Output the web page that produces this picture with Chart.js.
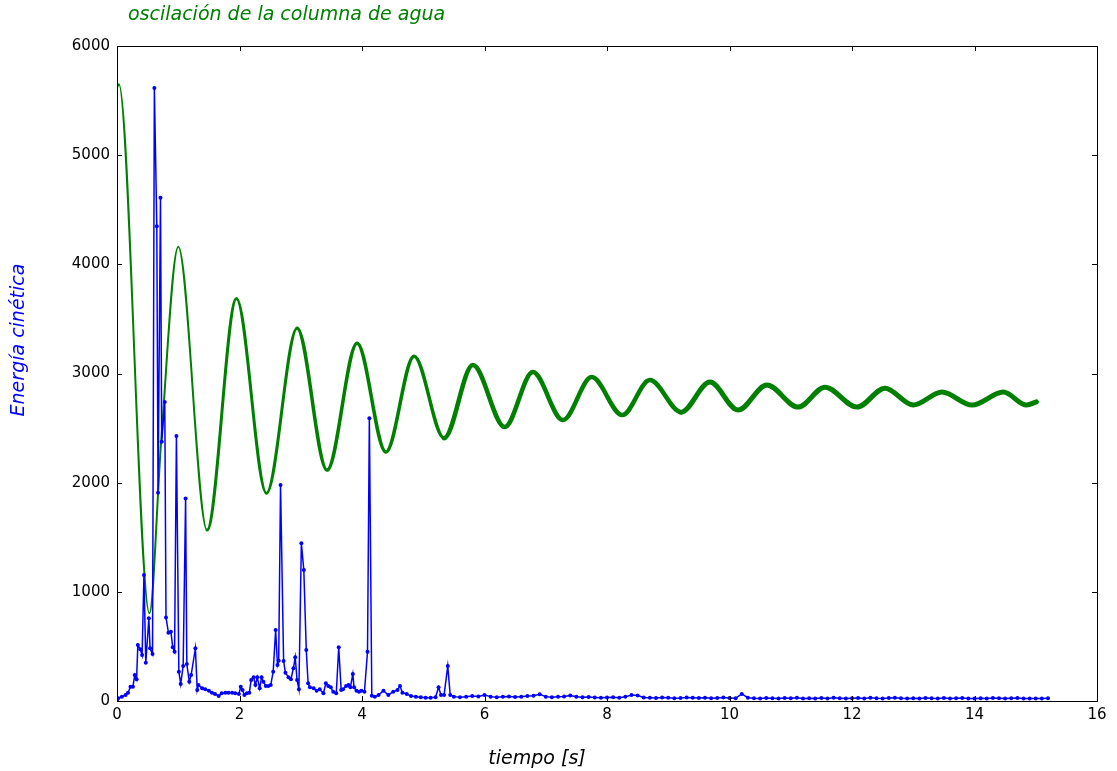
<!DOCTYPE html>
<html>
<head>
<meta charset="utf-8">
<script src="https://cdn.jsdelivr.net/npm/chart.js@4"></script>
<style>
  body { margin: 0; background: #fff; }
  #wrap { width: 1117px; height: 771px; }
</style>
</head>
<body>
<div id="wrap"><canvas id="chart" width="1117" height="771"></canvas></div>
<script>
// Labels
var titleText = 'oscilación de la columna de agua';
var yTitle = 'Energía cinética';
var xTitle = 'tiempo [s]';

// Axis ticks
var xTicks = [0, 2, 4, 6, 8, 10, 12, 14, 16];
var yTicks = [0, 1000, 2000, 3000, 4000, 5000, 6000];

// Water column oscillation (green): time [s] and value at turning points
var greenT = [0.0, 0.03, 0.53, 0.72, 1.00, 1.47, 1.95, 2.44, 2.94, 3.43, 3.92, 4.39, 4.85, 5.34, 5.81,
  6.33, 6.79, 7.28, 7.75, 8.25, 8.70, 9.21, 9.68, 10.14, 10.61, 11.12, 11.56, 12.08, 12.54,
  13.00, 13.47, 13.96, 14.47, 14.85, 15.01];
var greenV = [5620, 5650, 803, 2370, 4160, 1566, 3687, 1902, 3415, 2115, 3278, 2280, 3159, 2408, 3077,
  2509, 3013, 2573, 2967, 2619, 2940, 2646, 2921, 2665, 2894, 2692, 2875, 2692, 2866,
  2711, 2830, 2711, 2830, 2711, 2741];

// Kinetic energy (blue), first part: time [s], value
var blueT = [0.00, 0.02, 0.08, 0.14, 0.18, 0.22, 0.26, 0.29, 0.32, 0.34, 0.38, 0.41, 0.44, 0.47, 0.52, 0.54,
  0.58, 0.61, 0.65, 0.67, 0.71, 0.73, 0.78, 0.80, 0.84, 0.88, 0.91, 0.94, 0.97, 1.01, 1.04, 1.08, 1.12,
  1.14, 1.18, 1.21, 1.28, 1.31, 1.33, 1.39, 1.44, 1.50, 1.55, 1.60, 1.66, 1.71, 1.77, 1.82, 1.88, 1.93,
  1.99, 2.02, 2.05, 2.08, 2.12, 2.16, 2.19, 2.23, 2.26, 2.29, 2.33, 2.36, 2.39, 2.43, 2.47, 2.51, 2.55,
  2.59, 2.62, 2.64, 2.67, 2.72, 2.75, 2.80, 2.84, 2.88, 2.91, 2.94, 2.97, 3.01, 3.05, 3.09, 3.12, 3.15,
  3.21, 3.26, 3.31, 3.37, 3.41, 3.45, 3.49, 3.53, 3.58, 3.62, 3.66, 3.69, 3.74, 3.78, 3.81, 3.85, 3.87,
  3.91, 3.95, 3.99, 4.04, 4.09, 4.12, 4.16, 4.21, 4.27, 4.35, 4.43, 4.51, 4.58, 4.62, 4.66, 4.73, 4.80,
  4.88, 4.96, 5.04, 5.12, 5.20, 5.25, 5.29, 5.34, 5.40, 5.44];
var blueV = [10, 25, 40, 55, 76, 131, 131, 238, 199, 513, 473, 421, 1154, 351, 757, 483,
  430, 5615, 4350, 1907, 4610, 2375, 2740, 766, 625, 635, 492, 452, 2427, 268, 156, 320, 1856,
  339, 177, 238, 483, 101, 146, 116, 107, 94, 76, 64, 46, 70, 76, 76, 76, 70,
  64, 131, 101, 55, 70, 76, 192, 217, 146, 217, 116, 217, 177, 137, 137, 146, 268,
  650, 330, 369, 1978, 366, 259, 217, 199, 300, 400, 192, 107, 1444, 1200, 467, 162, 125,
  116, 94, 107, 70, 162, 137, 125, 85, 70, 492, 101, 107, 137, 146, 125, 247, 125,
  94, 85, 94, 85, 452, 2590, 49, 40, 55, 94, 55, 85, 101, 137, 76, 64, 45,
  40, 35, 30, 30, 35, 125, 55, 55, 320, 55];

// Kinetic energy (blue), tail sampled every 0.1 s from 5.5 s
var tailStart = 5.5;
var tailStep = 0.1;
var blueTail = [40, 35, 38, 45, 42, 55, 40, 35, 38, 42, 36, 40, 45, 48, 62, 40, 35, 38, 42, 50,
  38, 34, 36, 33, 30, 32, 35, 30, 38, 55, 50, 32, 30, 28, 32, 30, 26, 28, 32, 30,
  27, 30, 25, 28, 32, 28, 25, 65, 30, 26, 24, 28, 25, 22, 27, 25, 30, 24, 26, 22,
  28, 24, 30, 26, 23, 25, 28, 22, 30, 26, 24, 27, 30, 25, 22, 26, 23, 28, 25, 24,
  27, 22, 25, 28, 24, 22, 26, 24, 28, 25, 23, 25, 27, 24, 22, 24, 22, 25];

// Build point lists
var greenData = greenT.map(function (t, i) { return { x: t, y: greenV[i] }; });
var blueData = blueT.map(function (t, i) { return { x: t, y: blueV[i] }; });
blueTail.forEach(function (v, i) {
  blueData.push({ x: Math.round((tailStart + i * tailStep) * 100) / 100, y: v });
});

var GREEN = '#008000';
var BLUE = '#0000ff';
var FONT = "'DejaVu Sans', 'Liberation Sans', sans-serif";

// Frame, inward ticks and free-placed texts
var framePlugin = {
  id: 'frame',
  afterDraw: function (chart) {
    var ctx = chart.ctx;
    var a = chart.chartArea;
    var xs = chart.scales.x, ys = chart.scales.y;
    var len = 5;
    ctx.save();
    ctx.strokeStyle = '#000';
    ctx.lineWidth = 1;
    ctx.beginPath();
    xTicks.forEach(function (v) {
      var px = Math.round(xs.getPixelForValue(v)) + 0.5;
      ctx.moveTo(px, a.bottom); ctx.lineTo(px, a.bottom - len);
      ctx.moveTo(px, a.top); ctx.lineTo(px, a.top + len);
    });
    yTicks.forEach(function (v) {
      var py = Math.round(ys.getPixelForValue(v)) + 0.5;
      ctx.moveTo(a.left, py); ctx.lineTo(a.left + len, py);
      ctx.moveTo(a.right, py); ctx.lineTo(a.right - len, py);
    });
    ctx.stroke();
    ctx.strokeRect(Math.round(a.left) + 0.5, Math.round(a.top) + 0.5,
      Math.round(a.right - a.left), Math.round(a.bottom - a.top));

    // title
    ctx.font = 'italic 19px ' + FONT;
    ctx.fillStyle = GREEN;
    ctx.textAlign = 'left';
    ctx.textBaseline = 'middle';
    ctx.fillText(titleText, 128, 15);

    // x title
    ctx.fillStyle = '#000';
    ctx.textAlign = 'center';
    ctx.fillText(xTitle, 537, 759);

    // y title
    ctx.translate(19, 340);
    ctx.rotate(-Math.PI / 2);
    ctx.fillStyle = BLUE;
    ctx.fillText(yTitle, 0, 0);
    ctx.restore();
  }
};

var chartConfig = {
  type: 'line',
  data: {
    datasets: [
      {
        label: 'Energía cinética',
        data: blueData,
        borderColor: BLUE,
        backgroundColor: BLUE,
        borderWidth: 1.5,
        pointRadius: 2,
        pointBorderWidth: 0,
        pointBackgroundColor: BLUE,
        fill: false,
        order: 0
      },
      {
        label: 'oscilación de la columna de agua',
        data: greenData,
        borderColor: GREEN,
        borderWidth: 2,
        borderCapStyle: 'round',
        borderJoinStyle: 'round',
        pointRadius: 0,
        fill: false,
        cubicInterpolationMode: 'monotone',
        order: 1,
        segment: {
          borderWidth: function (c) {
            var t = c.p0.parsed.x;
            if (t < 1.4) return 2;
            if (t < 2.9) return 3;
            if (t < 5.3) return 3.5;
            if (t < 9) return 4.5;
            return 5;
          }
        }
      }
    ]
  },
  options: {
    responsive: false,
    animation: false,
    events: [],
    layout: { padding: { top: 46, right: 20, left: 0, bottom: 0 } },
    plugins: {
      legend: { display: false },
      tooltip: { enabled: false }
    },
    scales: {
      x: {
        type: 'linear',
        min: 0,
        max: 16,
        afterFit: function (s) { s.height = 70; },
        afterBuildTicks: function (s) { s.ticks = xTicks.map(function (v) { return { value: v }; }); },
        grid: { display: false, drawTicks: false },
        border: { display: false },
        ticks: {
          color: '#000', font: { family: FONT, size: 15 }, padding: 5, maxRotation: 0,
          callback: function (v) { return String(v); }
        }
      },
      y: {
        type: 'linear',
        min: 0,
        max: 6000,
        afterFit: function (s) { s.width = 117; },
        afterBuildTicks: function (s) { s.ticks = yTicks.map(function (v) { return { value: v }; }); },
        grid: { display: false, drawTicks: false },
        border: { display: false },
        ticks: {
          color: '#000', font: { family: FONT, size: 15 }, padding: 7,
          callback: function (v) { return String(v); }
        }
      }
    }
  },
  plugins: [framePlugin]
};

var energyChart = new Chart(document.getElementById('chart'), chartConfig);
</script>
</body>
</html>
